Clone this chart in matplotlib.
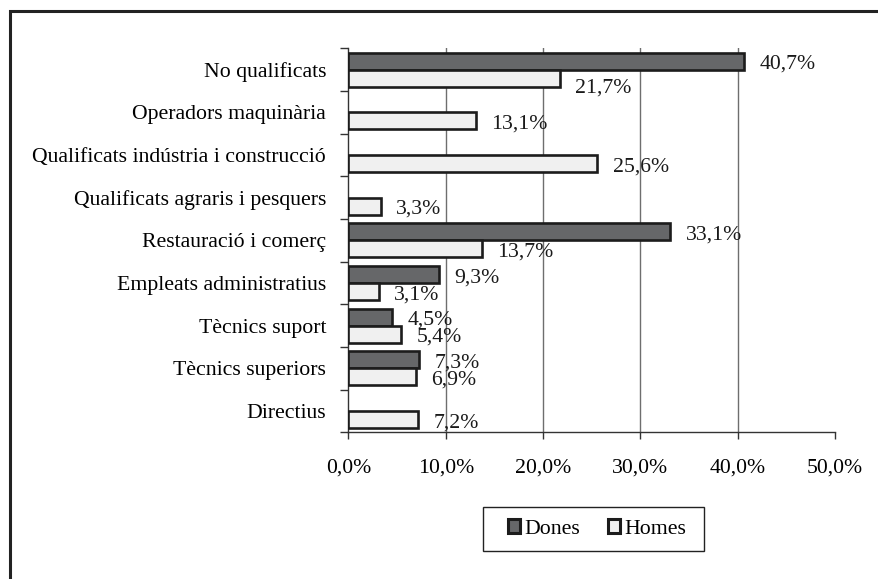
import matplotlib
matplotlib.use("Agg")
import matplotlib.pyplot as plt
from matplotlib.patches import Rectangle, Patch
import numpy as np

categories = [
    "No qualificats",
    "Operadors maquinària",
    "Qualificats indústria i construcció",
    "Qualificats agraris i pesquers",
    "Restauració i comerç",
    "Empleats administratius",
    "Tècnics suport",
    "Tècnics superiors",
    "Directius",
]
dones = [40.7, None, None, None, 33.1, 9.3, 4.5, 7.3, None]
homes = [21.7, 13.1, 25.6, 3.3, 13.7, 3.1, 5.4, 6.9, 7.2]
x_ticks = [0, 10, 20, 30, 40, 50]
series_names = ["Dones", "Homes"]

DONES_COLOR = "#666769"
HOMES_COLOR = "#f0f0f0"
EDGE = "#1c1c1c"
FS = 15.7

# extra downward shift (points) for the label of the first "Homes" bar
homes_label_drop = {0: 4.5}

plt.rcParams["font.family"] = ["Liberation Serif", "DejaVu Serif"]

fig = plt.figure(figsize=(8.79, 5.79), dpi=100)
fig.patch.set_facecolor("white")

# outer chart frame (runs off the right and bottom edges)
fig.add_artist(Rectangle((9.5 / 879, -0.1), 1.2, 1 - 11 / 579 + 0.1,
                         transform=fig.transFigure, fill=False,
                         edgecolor="#222222", linewidth=2.2))

ax = fig.add_axes([348.4 / 879, 1 - 432.3 / 579, 486.5 / 879, 384.0 / 579])

n = len(categories)
y = np.arange(n)
h = 0.4

def fmt(v):
    return f"{v:.1f}%".replace(".", ",")

for i, (d, m) in enumerate(zip(dones, homes)):
    if d is not None:
        ax.barh(y[i] - h / 2, d, height=h, color=DONES_COLOR,
                edgecolor=EDGE, linewidth=1.9, zorder=3)
        ax.annotate(fmt(d), (d, y[i] - h / 2), xytext=(11, -0.5),
                    textcoords="offset points", va="center_baseline",
                    ha="left", fontsize=FS, color="#1a1a1a", zorder=4)
    if m is not None:
        ax.barh(y[i] + h / 2, m, height=h, color=HOMES_COLOR,
                edgecolor=EDGE, linewidth=1.9, zorder=3)
        ax.annotate(fmt(m), (m, y[i] + h / 2),
                    xytext=(11, -0.5 - homes_label_drop.get(i, 0)),
                    textcoords="offset points", va="center_baseline",
                    ha="left", fontsize=FS, color="#1a1a1a", zorder=4)

ax.set_xlim(0, 50)
ax.set_ylim(n - 0.5, -0.5)

ax.set_xticks(x_ticks)
ax.set_xticklabels([fmt(v) for v in x_ticks], fontsize=FS)

# category boundaries carry the tick marks, category centres carry the labels
ax.set_yticks(np.arange(-0.5, n, 1.0))
ax.set_yticklabels([])
ax.set_yticks(y, minor=True)
ax.set_yticklabels(categories, minor=True, fontsize=FS)
ax.tick_params(axis="y", which="minor", length=0, pad=16)
ax.tick_params(axis="y", which="major", length=6, width=1, color="#333333",
               direction="out")
ax.tick_params(axis="x", length=5, width=1, color="#333333", pad=14,
               direction="out")

# vertical gridlines at the inner ticks only
for xv in x_ticks[1:-1]:
    ax.axvline(xv, color="#6e6e6e", linewidth=1.0, zorder=0)

for s in ["top", "right"]:
    ax.spines[s].set_visible(False)
for s in ["left", "bottom"]:
    ax.spines[s].set_color("#333333")
    ax.spines[s].set_linewidth(1.0)

handles = [
    Patch(facecolor=DONES_COLOR, edgecolor=EDGE, linewidth=2.2, label=series_names[0]),
    Patch(facecolor=HOMES_COLOR, edgecolor=EDGE, linewidth=2.2, label=series_names[1]),
]
leg = fig.legend(handles=handles, loc="center", ncol=2,
                 bbox_to_anchor=(597 / 879, 1 - 529 / 579),
                 fontsize=FS, frameon=False,
                 handlelength=0.55, handleheight=0.6, handletextpad=0.2,
                 columnspacing=1.3, borderpad=0.0, borderaxespad=0)

# legend box
fig.add_artist(Rectangle((483 / 879, 1 - 551 / 579), 221 / 879, 44 / 579,
                         transform=fig.transFigure, fill=False,
                         edgecolor="#222222", linewidth=1.0))

fig.savefig("out.png", dpi=100, facecolor="white")
